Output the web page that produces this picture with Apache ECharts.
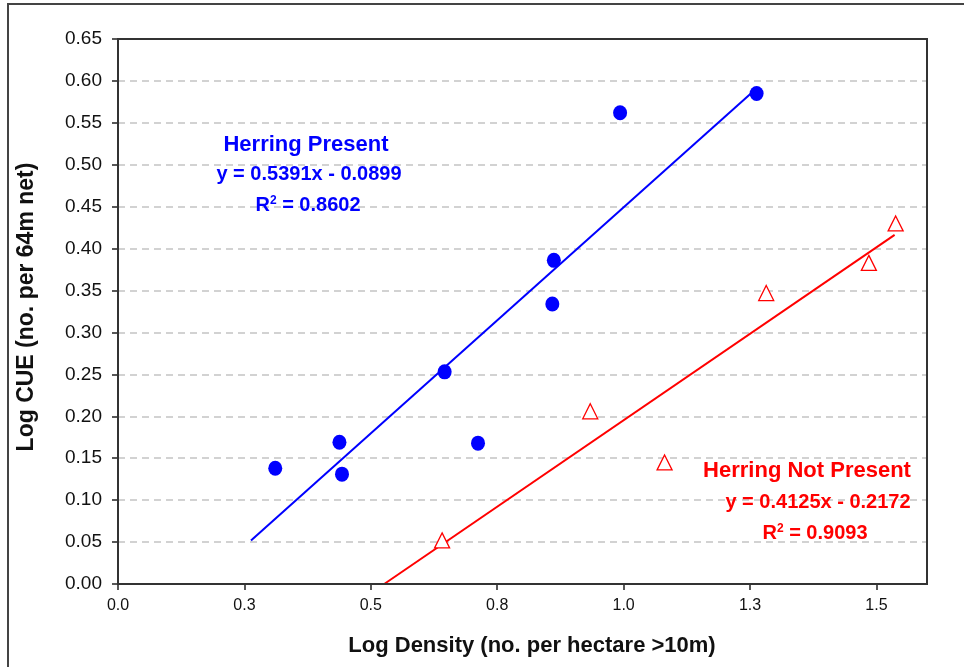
<!DOCTYPE html>
<html>
<head>
<meta charset="utf-8">
<script src="https://cdn.jsdelivr.net/npm/echarts@6/dist/echarts.min.js"></script>
<style>
html,body{margin:0;padding:0;background:#fff;}
#chart{width:964px;height:667px;}
</style>
</head>
<body>
<div id="chart"></div>
<script>
// ---- data ----
var presentX = [0.311, 0.438, 0.443, 0.646, 0.712, 0.862, 0.859, 0.993, 1.263];
var presentY = [0.138, 0.169, 0.131, 0.253, 0.168, 0.386, 0.334, 0.562, 0.585];
var notPresentX = [0.641, 0.934, 1.081, 1.282, 1.485, 1.538];
var notPresentY = [0.052, 0.206, 0.145, 0.347, 0.383, 0.430];
// trend lines: slope, intercept, x-range
var trendSlopes = [0.5391, 0.4125];
var trendIntercepts = [-0.0899, -0.2172];
var trendXRanges = [[0.263, 1.255], [0.5265, 1.536]];
var xTickValues = [0, 0.25, 0.5, 0.75, 1.0, 1.25, 1.5];
var seriesNames = ['Herring Present', 'Herring Not Present'];
var equationTexts = ['y = 0.5391x - 0.0899', 'y = 0.4125x - 0.2172'];
var r2Values = ['0.8602', '0.9093'];
var xTitle = 'Log Density (no. per hectare >10m)';
var yTitle = 'Log CUE (no. per 64m net)';

function zip(a, b) { return a.map(function (v, i) { return [v, b[i]]; }); }
function trend(i) {
  return trendXRanges[i].map(function (x) {
    return [x, trendSlopes[i] * x + trendIntercepts[i]];
  });
}

var chart = echarts.init(document.getElementById('chart'), null, {renderer: 'canvas'});
var FONT = '"Liberation Sans", Arial, sans-serif';
var G = {left: 118, top: 39, right: 37, bottom: 83};

function r2Text(i, color, x, y) {
  return {type: 'text', x: x, y: y, z: 50,
    style: {
      text: '{b|R}{s|2}{b| = ' + r2Values[i] + '}',
      textAlign: 'center', textVerticalAlign: 'middle',
      rich: {
        b: {font: 'bold 20px ' + FONT, fill: color, color: color},
        s: {font: 'bold 12px ' + FONT, fill: color, color: color, verticalAlign: 'top', padding: [0, 0, 8, 0]}
      }
    }};
}

chart.setOption({
  animation: false,
  backgroundColor: '#fff',
  grid: {left: G.left, top: G.top, right: G.right, bottom: G.bottom, show: false},
  xAxis: {
    type: 'value', min: 0, max: 1.6, interval: 0.25,
    axisLine: {show: true, onZero: false, lineStyle: {color: '#222', width: 2}},
    axisTick: {show: true, length: 6, customValues: xTickValues, lineStyle: {color: '#222', width: 1.5}},
    splitLine: {show: false},
    axisLabel: {
      margin: 14, fontFamily: FONT, fontSize: 16, color: '#111',
      customValues: xTickValues,
      formatter: function (v) { return (+v).toFixed(1); }
    }
  },
  yAxis: {
    type: 'value', min: 0, max: 0.65, interval: 0.05,
    axisLine: {show: true, onZero: false, lineStyle: {color: '#222', width: 2}},
    axisTick: {show: true, length: 6, lineStyle: {color: '#222', width: 1.5}},
    splitLine: {show: true, lineStyle: {color: '#c4c4c4', width: 1.5, type: [7, 5]}},
    axisLabel: {
      margin: 16, fontFamily: FONT, fontSize: 19, color: '#111',
      formatter: function (v) { return v.toFixed(2); }
    }
  },
  graphic: [
    {type: 'rect', shape: {x: 8, y: 4, width: 1000, height: 720},
     style: {fill: 'none', stroke: '#444', lineWidth: 2}, silent: true, z: -10},
    {type: 'rect', shape: {x: G.left, y: G.top, width: 964 - G.left - G.right, height: 667 - G.top - G.bottom},
     style: {fill: 'none', stroke: '#333', lineWidth: 2}, silent: true, z: 100},
    {type: 'text', x: 27, y: 307, rotation: Math.PI / 2,
     style: {text: yTitle, font: 'bold 23px ' + FONT, fill: '#111', textAlign: 'center', textVerticalAlign: 'middle'}},
    {type: 'text', x: 532, y: 646,
     style: {text: xTitle, font: 'bold 22px ' + FONT, fill: '#111', textAlign: 'center', textVerticalAlign: 'middle'}},
    {type: 'text', x: 306, y: 145, z: 50,
     style: {text: seriesNames[0], font: 'bold 22px ' + FONT, fill: '#0000ff', textAlign: 'center', textVerticalAlign: 'middle'}},
    {type: 'text', x: 309, y: 174, z: 50,
     style: {text: equationTexts[0], font: 'bold 20px ' + FONT, fill: '#0000ff', textAlign: 'center', textVerticalAlign: 'middle'}},
    r2Text(0, '#0000ff', 308, 205),
    {type: 'text', x: 807, y: 471, z: 50,
     style: {text: seriesNames[1], font: 'bold 22px ' + FONT, fill: '#ff0000', textAlign: 'center', textVerticalAlign: 'middle'}},
    {type: 'text', x: 818, y: 502, z: 50,
     style: {text: equationTexts[1], font: 'bold 20px ' + FONT, fill: '#ff0000', textAlign: 'center', textVerticalAlign: 'middle'}},
    r2Text(1, '#ff0000', 815, 533)
  ],
  series: [
    {name: seriesNames[0] + ' fit', type: 'line', data: trend(0), symbol: 'none',
     lineStyle: {color: '#0000ff', width: 2}, z: 2},
    {name: seriesNames[1] + ' fit', type: 'line', data: trend(1), symbol: 'none',
     lineStyle: {color: '#ff0000', width: 2}, z: 2},
    {name: seriesNames[0], type: 'scatter', data: zip(presentX, presentY),
     symbol: 'circle', symbolSize: [14, 15], itemStyle: {color: '#0000ff', opacity: 1}, z: 3},
    {name: seriesNames[1], type: 'scatter', data: zip(notPresentX, notPresentY),
     symbol: 'triangle', symbolSize: [15, 15],
     itemStyle: {color: '#ffffff', borderColor: '#ff0000', borderWidth: 1.3, opacity: 1}, z: 3}
  ]
});
</script>
</body>
</html>
